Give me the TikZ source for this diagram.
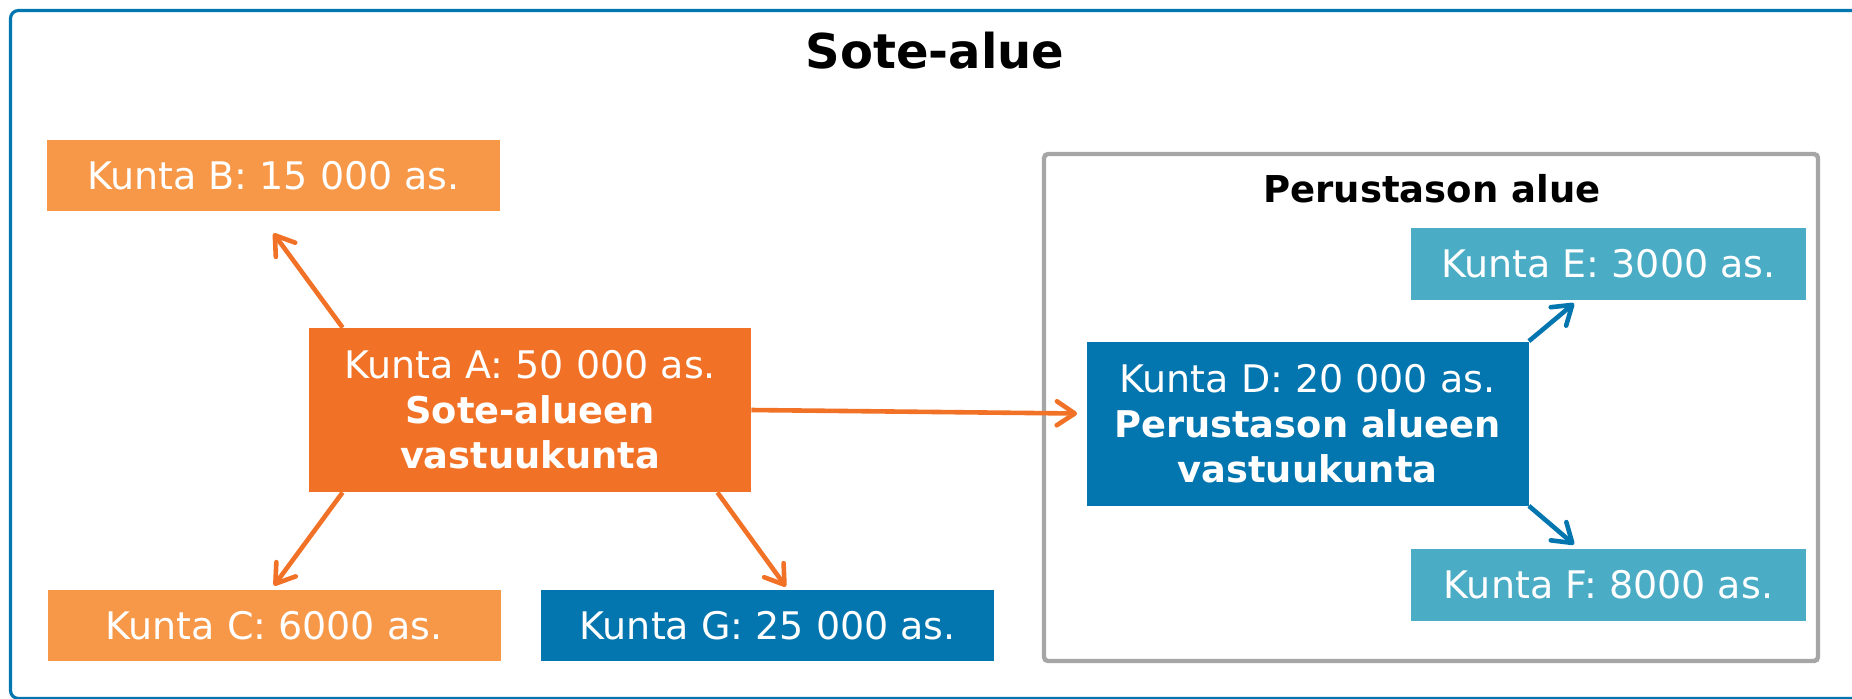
\documentclass[tikz,border=0pt]{standalone}
\usepackage{fontspec}
\setmainfont{DejaVu Sans}
\usepackage{tikz}
\usetikzlibrary{arrows.meta, positioning}
\usepackage{xcolor}
\definecolor{oranssi}{RGB}{241,114,38}
\definecolor{vaaleaoranssi}{RGB}{247,151,72}
\definecolor{sininen}{RGB}{4,118,175}
\definecolor{turkoosi}{RGB}{75,172,198}
\definecolor{harmaa}{RGB}{166,166,166}
\newcommand{\lihava}[1]{{\fontsize{18.4}{22.5}\selectfont\bfseries #1}}
\tikzset{%
	every kunta/.style={
		rectangle,
		inner sep=0pt,
		text=white,
		align=center,
		font=\fontsize{19}{22.5}\selectfont,
		minimum width=226.5pt,
		minimum height=35.5pt
	},
	vastuu/.style={
		every kunta,
		minimum width=221pt,
		minimum height=82pt
	},
	pieni kunta/.style={
		every kunta,
		fill=turkoosi,
		minimum width=197.5pt,
		minimum height=36pt
	},
	nuoli/.style={
		line width=2.3pt,
		-{Straight Barb[length=9pt,width=12pt,round]}
	},
}

\begin{document}
\begin{tikzpicture}[x=0.5pt, y=-0.5pt]
			\clip (0,0) rectangle (1852,698);
			% Outer frame and title
			\draw[sininen, line width=1.6pt, rounded corners=4pt] (10.5,10.5) rectangle (1870,698.5);
			\node[font=\fontsize{24}{28}\selectfont\bfseries] (otsikko) at (935,51) {Sote-alue};
			
			% Perustason alue, grey frame on the right
			\node[draw=harmaa, line width=2.2pt, rounded corners=2pt, inner sep=0pt, minimum width=387pt, minimum height=253.5pt] (perus) at (1431,407.5) {};
			\node[font=\fontsize{18.5}{22}\selectfont\bfseries] (perusotsikko) at (1432,189) {Perustason alue};
			
			% Sote-alueen kunnat
			\node[vastuu, fill=oranssi] (kuntaA) at (530,410) {Kunta A: 50 000 as.\\\lihava{Sote-alueen}\\\lihava{vastuukunta}};
			\node[every kunta, fill=vaaleaoranssi] (kuntaB) at (273.5,175.5) {Kunta B: 15 000 as.};
			\node[every kunta, fill=vaaleaoranssi] (kuntaC) at (274,625.5) {Kunta C: 6000 as.};
			\node[every kunta, fill=sininen] (kuntaG) [right=20pt of kuntaC] {Kunta G: 25 000 as.};
			
			% Perustason alueen kunnat
			\node[vastuu, fill=sininen] (kuntaD) at (1307.5,423.5) {Kunta D: 20 000 as.\\\lihava{Perustason alueen}\\\lihava{vastuukunta}};
			\node[pieni kunta] (kuntaE) at (1608.5,264) {Kunta E: 3000 as.};
			\node[pieni kunta] (kuntaF) [below=124pt of kuntaE] {Kunta F: 8000 as.};
			
			% Arrows
			\draw[nuoli, oranssi] ([xshift=17pt]kuntaA.north west) -- ([yshift=-11pt]kuntaB.south);
			\draw[nuoli, oranssi] ([xshift=17pt]kuntaA.south west) -- ([yshift=2pt]kuntaC.north);
			\draw[nuoli, oranssi] ([xshift=-17pt]kuntaA.south east) -- ([xshift=9pt,yshift=1.5pt]kuntaG.north);
			\draw[nuoli, oranssi] (kuntaA.east) -- ([xshift=-4.5pt,yshift=5pt]kuntaD.west);
			\draw[nuoli, sininen] (kuntaD.north east) -- ([xshift=-17.25pt,yshift=-1.5pt]kuntaE.south);
			\draw[nuoli, sininen] (kuntaD.south east) -- ([xshift=-17.25pt,yshift=2pt]kuntaF.north);
		\end{tikzpicture}
\end{document}
